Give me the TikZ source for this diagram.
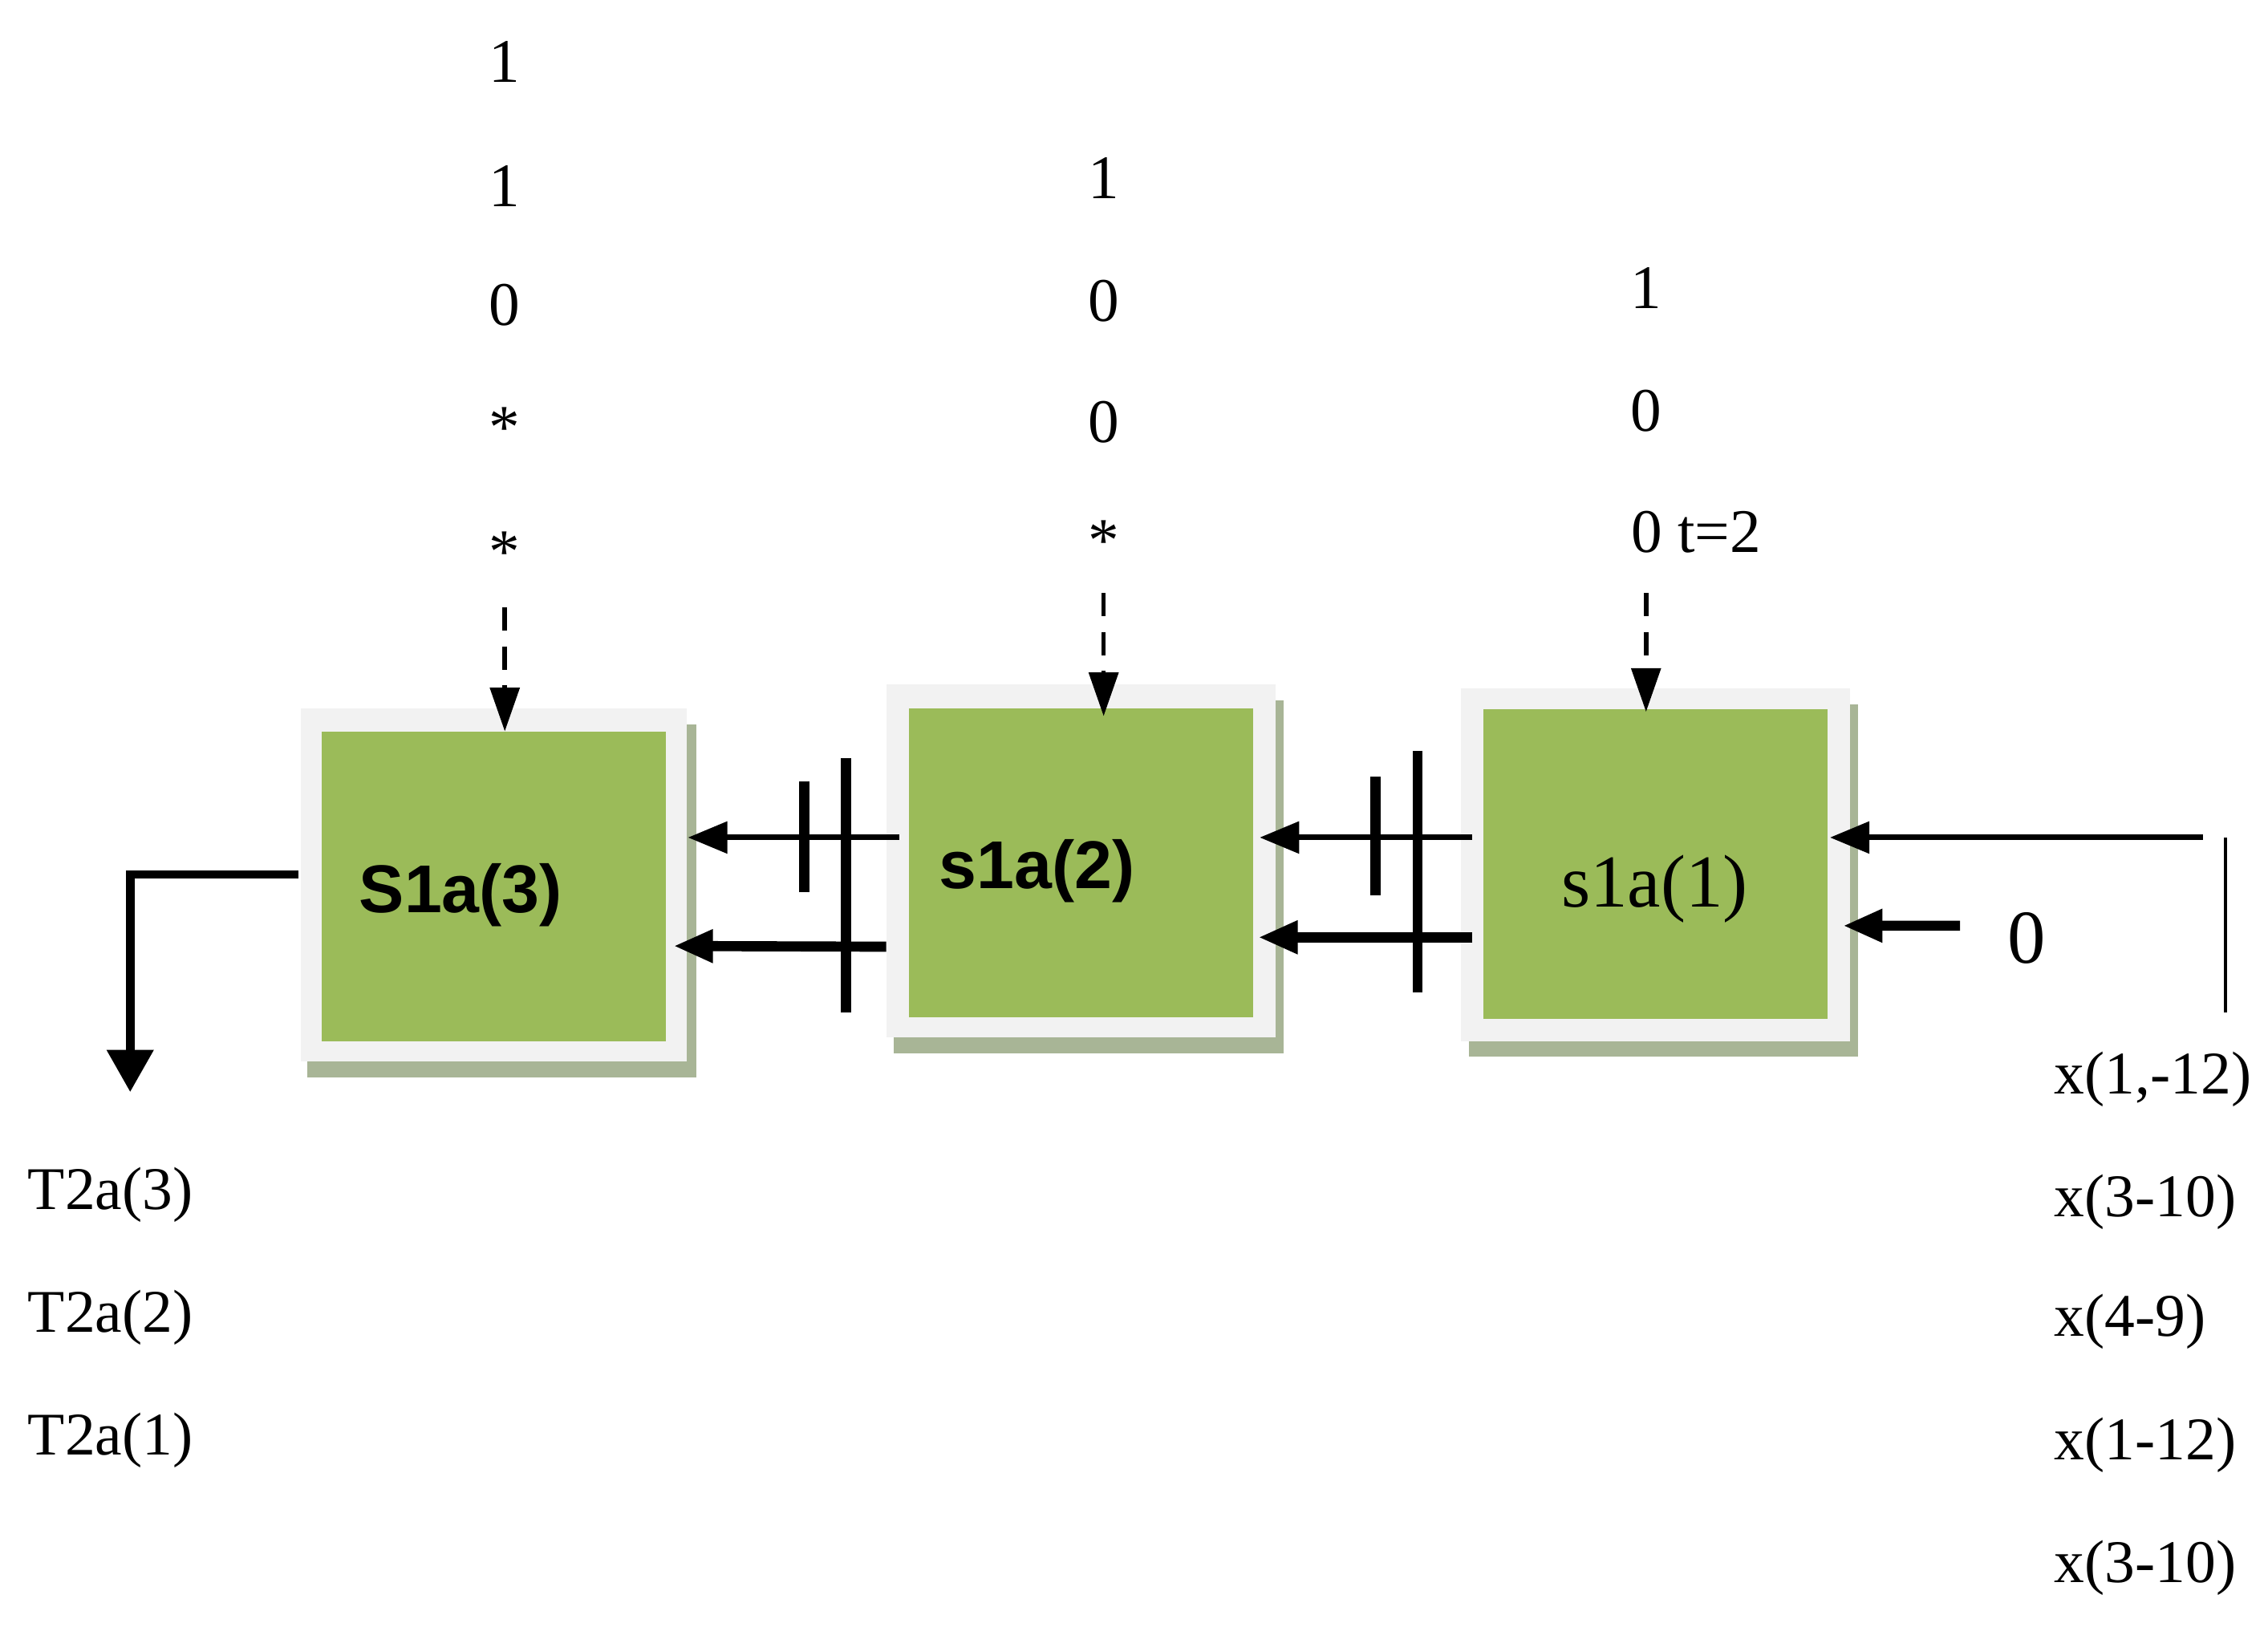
\documentclass[tikz,border=0pt]{standalone}
\usepackage{fontspec}
\setmainfont{Liberation Serif}
\newfontfamily\boxsans{Liberation Sans}
\usetikzlibrary{arrows.meta,calc}
\definecolor{boxgreen}{HTML}{9BBB59}
\definecolor{boxframe}{HTML}{F2F2F2}
\definecolor{boxshadow}{HTML}{A8B596}
\tikzset{
  gbox/.style={rectangle, fill=boxgreen, minimum width=122.1pt, minimum height=109.8pt, inner sep=0pt},
  digit/.style={anchor=base, inner sep=0pt, font=\fontsize{22}{26}\selectfont},
  lbl/.style={anchor=base west, inner sep=0pt, font=\fontsize{21.5}{26}\selectfont},
  boldlbl/.style={anchor=base west, inner sep=0pt, font=\boxsans\bfseries\fontsize{24}{28}\selectfont},
  widelbl/.style={anchor=base west, inner sep=0pt, font=\fontsize{26.5}{30}\selectfont},
  thinarr/.style={line width=2pt, -{Triangle[length=14pt,width=11pt]}},
  thickarr/.style={line width=3.6pt, -{Triangle[length=14pt,width=11pt]}},
  dasharr/.style={line width=1.6pt, dash pattern=on 8.3pt off 5.5pt, -{Triangle[length=15.5pt,width=10.3pt]}},
  outarr/.style={line width=3pt, -{Triangle[length=15pt,width=16pt]}},
  barline/.style={line width=3.6pt},
  thinline/.style={line width=1.3pt},
}
\begin{document}
\begin{tikzpicture}[x=0.018029cm, y=-0.018029cm]
\useasboundingbox (0,0) rectangle (1568,1124.3);

% ---- boxes: shadow, frame, green face
\fill[boxshadow] (212.5,501) rectangle (481.5,745);
\fill[boxframe] (208,490) rectangle (475,734);
\node[gbox] (b3) at (341.25,613) {};
\fill[boxshadow] (618,484) rectangle (887.5,728);
\fill[boxframe] (613,473) rectangle (882,717);
\node[gbox] (b2) at (747.5,596.5) {};
\fill[boxshadow] (1015.5,487) rectangle (1284.5,730.5);
\fill[boxframe] (1010,476) rectangle (1279,720);
\node[gbox] (b1) at (1144.75,597.5) {};

\node[boldlbl] (t3) at (248,631) {S1a(3)};
\node[boldlbl] (t2) at (649,614) {s1a(2)};
\node[widelbl] (t1) at (1079,627) {s1a(1)};

% ---- top columns
\node[digit] (c11) at (349,57) {1};
\node[digit] (c12) at (349,143) {1};
\node[digit] (c13) at (349,225) {0};
\node[digit] (c14) at (349,310) {*};
\node[digit] (c15) at (349,396) {*};

\node[digit] (c21) at (763,137) {1};
\node[digit] (c22) at (763,222) {0};
\node[digit] (c23) at (763,306) {0};
\node[digit] (c24) at (763,388) {*};

\node[digit] (c31) at (1138,213) {1};
\node[digit] (c32) at (1138,298) {0};
\node[digit, anchor=base west] (c33) at (1127.3,382) {0 t=2};

\draw[dasharr] ($(c15.base)+(0,24)$) -- (b3.north -| c15.base);
\draw[dasharr] ($(c24.base)+(0,22)$) -- ($(b2.north -| c24.base)+(0,6)$);
\coordinate (c33x) at ($(c33.base west)+(10.7,28)$);
\draw[dasharr] (c33x) -- ($(b1.north -| c33x)+(0,2)$);

% ---- links between boxes
\draw[thinarr] ($(b2.west)+(-6.5,-17.5)$) -- ($(b3.east)+(15,-34)$);
\draw[thickarr] ($(b2.west)+(-15.5,58)$) -- ($(b3.east)+(5,41)$);
\draw[barline] (556,540) -- (556,617);
\draw[barline] (585,524) -- (585,700);

\draw[thinarr] ($(b1.west)+(-7.5,-18.5)$) -- ($(b2.east)+(4,-17.5)$);
\draw[thickarr] ($(b1.west)+(-7.5,50.5)$) -- ($(b2.east)+(3,51.5)$);
\draw[barline] (951,537) -- (951,619);
\draw[barline] (980,519) -- (980,686);

% ---- right inputs
\node[anchor=base, inner sep=0pt, font=\fontsize{27}{30}\selectfont] (zero) at (1401,666) {0};
\coordinate (rin1) at (1523,579);
\coordinate (rin0) at (1355,640);
\draw[thinarr] (rin1) -- ($(b1.east)+(1,-18.5)$);
\draw[thickarr] (rin0) -- ($(b1.east)+(10,42.5)$);
\coordinate (rv1) at (1538.5,579);
\coordinate (rv2) at (1538.5,700);
\draw[thinline] (rv1) -- (rv2);

\node[lbl] (x1) at (1420,756) {x(1,-12)};
\node[lbl] (x2) at (1420,841) {x(3-10)};
\node[lbl] (x3) at (1420,924) {x(4-9)};
\node[lbl] (x4) at (1420,1009) {x(1-12)};
\node[lbl] (x5) at (1420,1094) {x(3-10)};

% ---- output
\coordinate (outT) at (90,755);
\draw[outarr] ($(b3.west)+(-15.5,-8.5)$) -| (outT);

\node[lbl] (o3) at (19,836) {T2a(3)};
\node[lbl] (o2) at (19,921) {T2a(2)};
\node[lbl] (o1) at (19,1006) {T2a(1)};
\end{tikzpicture}
\end{document}
